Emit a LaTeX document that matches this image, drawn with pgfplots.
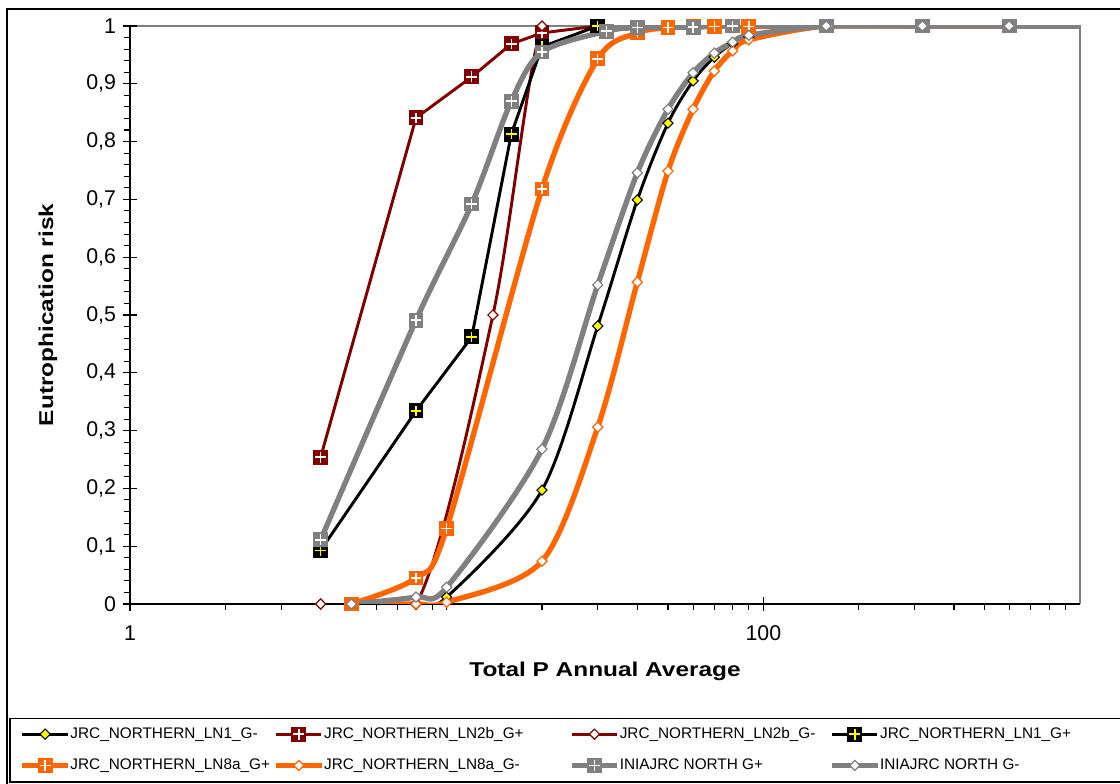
\documentclass[border=0pt]{standalone}
\usepackage{pgfplots}
\pgfplotsset{compat=1.18}
\usepackage{fontspec}
\setmainfont{Liberation Sans}
\newfontfamily\titlefont{Liberation Sans}[FakeStretch=1.22]
\definecolor{dred}{RGB}{128,0,0}
\definecolor{orng}{RGB}{255,102,0}
\definecolor{gry}{RGB}{128,128,128}
\definecolor{yel}{RGB}{255,255,0}
\pgfdeclareplotmark{sqplusW}{%
 \pgfpathrectangle{\pgfqpoint{-\pgfplotmarksize}{-\pgfplotmarksize}}{\pgfqpoint{2\pgfplotmarksize}{2\pgfplotmarksize}}%
 \pgfusepathqfill
 \pgfscope
 \pgfsetstrokecolor{white}%
 \pgfsetlinewidth{1.1pt}%
 \pgfpathmoveto{\pgfqpoint{-0.72\pgfplotmarksize}{0pt}}\pgfpathlineto{\pgfqpoint{0.72\pgfplotmarksize}{0pt}}%
 \pgfpathmoveto{\pgfqpoint{0pt}{-0.72\pgfplotmarksize}}\pgfpathlineto{\pgfqpoint{0pt}{0.72\pgfplotmarksize}}%
 \pgfusepathqstroke
 \endpgfscope
}
\pgfdeclareplotmark{sqplusY}{%
 \pgfpathrectangle{\pgfqpoint{-\pgfplotmarksize}{-\pgfplotmarksize}}{\pgfqpoint{2\pgfplotmarksize}{2\pgfplotmarksize}}%
 \pgfusepathqfill
 \pgfscope
 \pgfsetstrokecolor{yel}%
 \pgfsetlinewidth{1.1pt}%
 \pgfpathmoveto{\pgfqpoint{-0.72\pgfplotmarksize}{0pt}}\pgfpathlineto{\pgfqpoint{0.72\pgfplotmarksize}{0pt}}%
 \pgfpathmoveto{\pgfqpoint{0pt}{-0.72\pgfplotmarksize}}\pgfpathlineto{\pgfqpoint{0pt}{0.72\pgfplotmarksize}}%
 \pgfusepathqstroke
 \endpgfscope
}
\pgfdeclareplotmark{dia}{%
 \pgfpathmoveto{\pgfqpoint{0pt}{\pgfplotmarksize}}%
 \pgfpathlineto{\pgfqpoint{\pgfplotmarksize}{0pt}}%
 \pgfpathlineto{\pgfqpoint{0pt}{-\pgfplotmarksize}}%
 \pgfpathlineto{\pgfqpoint{-\pgfplotmarksize}{0pt}}%
 \pgfpathclose
 \pgfusepathqfillstroke
}
\begin{document}
\begin{tikzpicture}
\useasboundingbox (0,0) rectangle (840pt,588pt);
% outer chart frame and legend frame
\draw[black, line width=0.9pt] (5.25pt,-5pt) -- (5.25pt,581.25pt) -- (850pt,581.25pt);
\draw[black, line width=0.9pt] (7.5pt,1.5pt) rectangle (850pt,49.2pt);
% plot area border (top, right)
\draw[gry, line width=0.8pt] (97.5pt,568.5pt) -- (810pt,568.5pt) -- (810pt,135pt);
\begin{axis}[
  at={(97.5pt,135pt)}, anchor=south west,
  width=712.5pt, height=433.5pt, scale only axis,
  xmode=log, xmin=1, xmax=1000, ymin=0, ymax=1,
  axis lines*=left,
  axis line style={black, line width=0.9pt, -},
  xtick={1,100}, xticklabels={1,100},
  minor xtick={2,3,4,5,6,7,8,9,10,20,30,40,50,60,70,80,90,200,300,400,500,600,700,800,900},
  ytick={0,0.1,0.2,0.3,0.4,0.5,0.6,0.7,0.8,0.9,1},
  minor y tick num=4,
  yticklabel style={xshift=-1.5pt, /pgf/number format/fixed, /pgf/number format/use comma, /pgf/number format/precision=1, /pgf/number format/assume math mode=true},
  xticklabel style={yshift=-7pt},
  tick label style={font=\fontsize{16}{18}\selectfont},
  tick align=center, major tick length=11pt, minor tick length=4.5pt,
  minor x tick style={yshift=-2.25pt},
  minor y tick style={xshift=-2.25pt},
  tick style={black, line width=0.8pt},
  xlabel={Total P Annual Average},
  ylabel={Eutrophication risk},
  xlabel style={at={(axis description cs:0.5,-0.116)}, anchor=center, font=\titlefont\bfseries\fontsize{15}{18}\selectfont},
  ylabel style={at={(axis description cs:-0.0863,0.5)}, anchor=center, font=\titlefont\bfseries\fontsize{15}{18}\selectfont},
  legend columns=4,
  legend cell align=left,
  legend style={at={(axis description cs:-0.1160,-0.2123)}, anchor=north west, draw=none, fill=none,
    inner sep=0pt, outer sep=0pt, font=\fontsize{11.5}{13}\selectfont,
    column sep=0pt, row sep=12.25pt,
    nodes={inner sep=0pt, text height=8.5pt, text depth=2.5pt},
    /tikz/every odd column/.append style={column sep=0pt}},
  legend image code/.code={\draw[mark repeat=2,mark phase=2] plot coordinates {(0pt,0pt) (17pt,0pt) (34pt,0pt)};},
]
% 1 JRC_NORTHERN_LN1_G-
\addplot[black, line width=2.2pt, smooth, mark=dia, mark size=3.8pt, mark options={solid, fill=yel, draw=black, line width=0.8pt}]
 coordinates {(5,0) (8,0) (10,0.012) (20,0.197) (30,0.481) (40,0.699) (50,0.832) (60,0.905) (70,0.946) (80,0.970) (90,0.981) (158,1) (318,1) (597,1)};
\addlegendentry{\makebox[152.25pt][l]{JRC\_NORTHERN\_LN1\_G-}}
% 2 JRC_NORTHERN_LN2b_G+
\addplot[dred, line width=2.2pt, mark=sqplusW, mark size=5.6pt, mark options={solid, fill=dred}]
 coordinates {(4,0.254) (8,0.841) (12,0.912) (16,0.969) (20,0.988) (30,1)};
\addlegendentry{\makebox[183.75pt][l]{JRC\_NORTHERN\_LN2b\_G+}}
% 3 JRC_NORTHERN_LN2b_G-
\addplot[dred, line width=2.2pt, smooth, mark=dia, mark size=3.8pt, mark options={solid, fill=white, draw=dred, line width=0.9pt}]
 coordinates {(4,0) (8,0) (14,0.5) (20,1) (30,1)};
\addlegendentry{\makebox[157.25pt][l]{JRC\_NORTHERN\_LN2b\_G-}}
% 4 JRC_NORTHERN_LN1_G+
\addplot[black, line width=2.2pt, mark=sqplusY, mark size=5.6pt, mark options={solid, fill=black}]
 coordinates {(4,0.093) (8,0.334) (12,0.462) (16,0.813) (20,0.964) (30,1)};
\addlegendentry{JRC\_NORTHERN\_LN1\_G+}
% 5 JRC_NORTHERN_LN8a_G+
\addplot[orng, line width=4pt, smooth, mark=sqplusW, mark size=5.6pt, mark options={solid, fill=orng}]
 coordinates {(5,0) (8,0.045) (10,0.131) (20,0.718) (30,0.943) (40,0.988) (50,0.997) (60,1) (70,0.999) (80,1) (90,0.999) (158,1) (318,1) (597,1)};
\addlegendentry{\makebox[152.25pt][l]{JRC\_NORTHERN\_LN8a\_G+}}
% 6 JRC_NORTHERN_LN8a_G-
\addplot[orng, line width=4pt, smooth, mark=dia, mark size=3.8pt, mark options={solid, fill=white, draw=orng, line width=0.9pt}]
 coordinates {(5,0) (8,0) (10,0.003) (20,0.074) (30,0.306) (40,0.557) (50,0.749) (60,0.856) (70,0.922) (80,0.957) (90,0.976) (158,1) (318,1) (597,1)};
\addlegendentry{\makebox[183.75pt][l]{JRC\_NORTHERN\_LN8a\_G-}}
% extension of the lines to the right edge
\addplot[gry, line width=4pt, forget plot] coordinates {(597,1) (1000,1)};
% 7 INIAJRC NORTH G+
\addplot[gry, line width=4pt, smooth, mark=sqplusW, mark size=5.6pt, mark options={solid, fill=gry}]
 coordinates {(4,0.111) (8,0.491) (12,0.692) (16,0.870) (20,0.955) (32,0.991) (40,0.997) (60,0.998) (80,1) (158,1) (318,1) (597,1)};
\addlegendentry{\makebox[157.25pt][l]{INIAJRC NORTH G+}}
% 8 INIAJRC NORTH G-
\addplot[gry, line width=4pt, smooth, mark=dia, mark size=3.8pt, mark options={solid, fill=white, draw=gry, line width=0.9pt}]
 coordinates {(5,0) (8,0.012) (10,0.029) (20,0.268) (30,0.552) (40,0.746) (50,0.856) (60,0.919) (70,0.953) (80,0.972) (90,0.984) (158,1) (318,1) (597,1)};
\addlegendentry{INIAJRC NORTH G-}
\end{axis}
\end{tikzpicture}
\end{document}
